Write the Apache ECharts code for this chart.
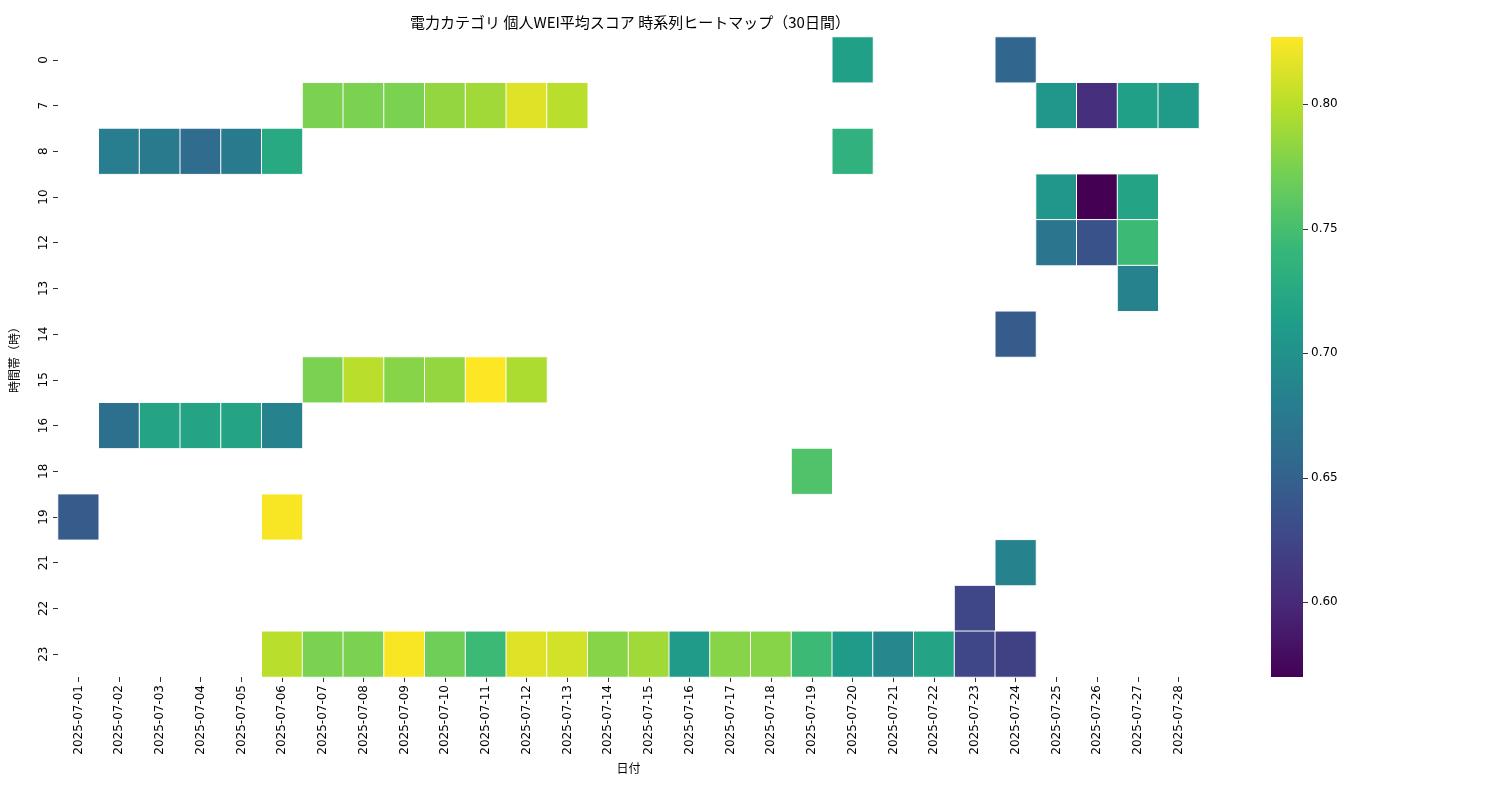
<!DOCTYPE html><html><head><meta charset="utf-8">
<script src="https://cdn.jsdelivr.net/npm/echarts@6/dist/echarts.min.js"></script>
<style>html,body{margin:0;background:#fff}#c{width:1500px;height:800px}</style></head><body><div id="c"></div>
<script>
const dates=[];for(let d=1;d<=28;d++)dates.push('2025-07-'+String(d).padStart(2,'0'));
const hours=['0','7','8','10','12','13','14','15','16','18','19','21','22','23'];
const h0={'07-20':0.715,'07-24':0.655};
const h7={'07-07':0.775,'07-08':0.775,'07-09':0.775,'07-10':0.785,'07-11':0.79,'07-12':0.815,'07-13':0.80,'07-25':0.705,'07-26':0.605,'07-27':0.715,'07-28':0.71};
const h8={'07-02':0.68,'07-03':0.675,'07-04':0.66,'07-05':0.675,'07-06':0.725,'07-20':0.735};
const h10={'07-25':0.705,'07-26':0.57,'07-27':0.72};
const h12={'07-25':0.67,'07-26':0.635,'07-27':0.745};
const h13={'07-27':0.685};
const h14={'07-24':0.645};
const h15={'07-07':0.775,'07-08':0.80,'07-09':0.78,'07-10':0.785,'07-11':0.827,'07-12':0.795};
const h16={'07-02':0.665,'07-03':0.72,'07-04':0.72,'07-05':0.72,'07-06':0.685};
const h18={'07-19':0.755};
const h19={'07-01':0.645,'07-06':0.825};
const h21={'07-24':0.685};
const h22={'07-23':0.625};
const h23={'07-06':0.80,'07-07':0.775,'07-08':0.775,'07-09':0.825,'07-10':0.77,'07-11':0.745,'07-12':0.815,'07-13':0.81,'07-14':0.78,'07-15':0.79,'07-16':0.71,'07-17':0.78,'07-18':0.78,'07-19':0.745,'07-20':0.71,'07-21':0.69,'07-22':0.72,'07-23':0.625,'07-24':0.62};
const rows=[h0,h7,h8,h10,h12,h13,h14,h15,h16,h18,h19,h21,h22,h23];
const vmin=0.57,vmax=0.827;
const viridis=['#440154','#482878','#3e4989','#31688e','#26828e','#1f9e89','#35b779','#6ece58','#b5de2b','#fde725'];
const data=[];
rows.forEach((r,yi)=>{for(const k in r){data.push([dates.indexOf('2025-'+k),yi,r[k]]);}});
const ch=echarts.init(document.getElementById('c'));
const font='"Noto Sans CJK JP", "DejaVu Sans", sans-serif';
ch.setOption({
 textStyle:{fontFamily:font},
 title:{text:'電力カテゴリ 個人WEI平均スコア 時系列ヒートマップ（30日間）',left:625,textAlign:'center',top:10,textStyle:{fontSize:15,fontWeight:'normal',color:'#000',fontFamily:font}},
 grid:[{left:57,top:37,width:1142,height:640},{left:1271,top:37,width:32,height:640}],
 xAxis:[{type:'category',data:dates,gridIndex:0,name:'日付',nameLocation:'middle',nameGap:85,nameTextStyle:{color:'#000',fontSize:12},
   axisLine:{show:false},axisTick:{show:true,alignWithLabel:true,length:5,lineStyle:{color:'#333'}},axisLabel:{rotate:90,color:'#000',fontSize:12,fontFamily:'DejaVu Sans'}},
  {type:'category',data:[''],gridIndex:1,show:false}],
 yAxis:[{type:'category',data:hours,inverse:true,gridIndex:0,name:'時間帯（時）',nameLocation:'middle',nameGap:38,nameRotate:90,nameTextStyle:{color:'#000',fontSize:12},
   axisLine:{show:false},axisTick:{show:true,alignWithLabel:true,length:5,lineStyle:{color:'#333'}},axisLabel:{rotate:90,color:'#000',fontSize:12,fontFamily:'DejaVu Sans'}},
  {type:'value',gridIndex:1,position:'right',min:vmin,max:vmax,
   axisLine:{show:false},splitLine:{show:false},
   axisTick:{show:true,length:5,customValues:[0.6,0.65,0.7,0.75,0.8],lineStyle:{color:'#333'}},
   axisLabel:{color:'#000',fontSize:12,fontFamily:'DejaVu Sans',customValues:[0.6,0.65,0.7,0.75,0.8],formatter:v=>v.toFixed(2)}}],
 visualMap:{show:false,min:vmin,max:vmax,seriesIndex:0,inRange:{color:viridis}},
 graphic:[{type:'rect',left:1271,top:37,shape:{width:32,height:640},
   style:{fill:new echarts.graphic.LinearGradient(0,1,0,0,viridis.map((c,i)=>({offset:i/(viridis.length-1),color:c})))}}],
 series:[{type:'heatmap',data:data,xAxisIndex:0,yAxisIndex:0,itemStyle:{borderColor:'#fff',borderWidth:1},emphasis:{disabled:true}}]
});
</script></body></html>
